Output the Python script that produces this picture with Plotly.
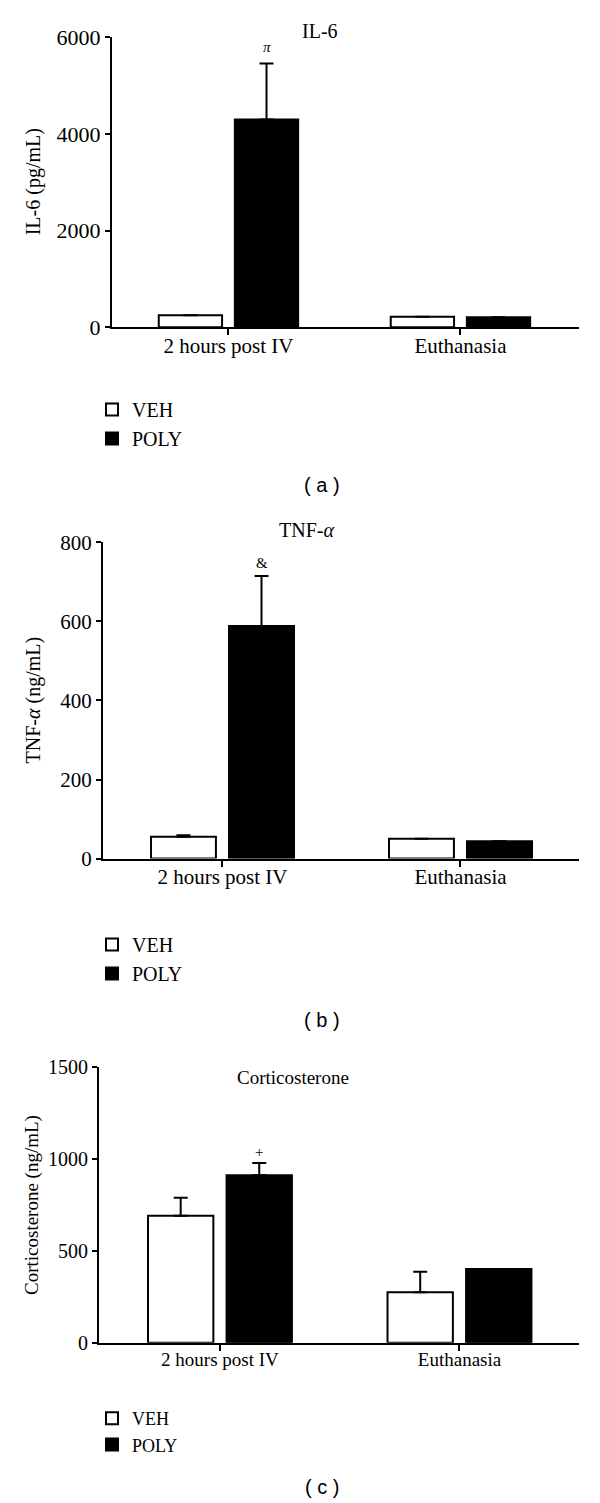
import plotly.graph_objects as go

# ---------------- data ----------------
categories = ["2 hours post IV", "Euthanasia"]

il6_veh = [250, 220]
il6_veh_err = [0, 0]
il6_poly = [4300, 210]
il6_poly_err = [1160, 0]

tnf_veh = [55, 50]
tnf_veh_err = [4, 0]
tnf_poly = [588, 44]
tnf_poly_err = [127, 0]

cort_veh = [692, 275]
cort_veh_err = [98, 112]
cort_poly = [912, 401]
cort_poly_err = [67, 0]

series_names = ["VEH", "POLY"]
panel_titles = ["IL-6", "TNF-<i>α</i>", "Corticosterone"]
y_titles = ["IL-6 (pg/mL)", "TNF-<i>α</i> (ng/mL)", "Corticosterone (ng/mL)"]
y_ticks = [[0, 2000, 4000, 6000], [0, 200, 400, 600, 800], [0, 500, 1000, 1500]]
y_ranges = [[0, 6000], [0, 800], [0, 1500]]
sig_marks = ["<i>π</i>", "&", "+"]
panel_labels = ["( a )", "( b )", "( c )"]

# ---------------- layout helpers ----------------
# The page body has an 8px default margin, so the figure is offset by it;
# positions below are given in window pixels and converted accordingly.
PAGE_W, PAGE_H, BODY = 600, 1503, 8
W, H = PAGE_W - 2 * BODY, PAGE_H - BODY
SERIF = "Liberation Serif"


def px_x(v):
    return (v - BODY) / W


def px_y(v):
    return 1 - (v - BODY) / H


panels = [
    dict(veh=il6_veh, veh_err=il6_veh_err, poly=il6_poly, poly_err=il6_poly_err,
         xdom=(112, 579), ydom=(37.3, 327.3), xr=(-0.502, 1.511),
         yfs=22, xfs=21, tfs=20, lfs=20,
         sig_off=330, title_xy=(320, 31), ytitle_x=33, leg_top=390, lab_y=485),
    dict(veh=tnf_veh, veh_err=tnf_veh_err, poly=tnf_poly, poly_err=tnf_poly_err,
         xdom=(103, 579), ydom=(542.3, 858.6), xr=(-0.502, 1.498),
         yfs=21, xfs=21, tfs=20, lfs=20,
         sig_off=33, title_xy=(306, 530), ytitle_x=33, leg_top=925, lab_y=1020),
    dict(veh=cort_veh, veh_err=cort_veh_err, poly=cort_poly, poly_err=cort_poly_err,
         xdom=(99, 579), ydom=(1067.3, 1342.7), xr=(-0.505, 1.499),
         yfs=20, xfs=19, tfs=19, lfs=18,
         sig_off=60, title_xy=(293, 1077), ytitle_x=32, leg_top=1400, lab_y=1487),
]

fig = go.Figure()
annotations = []
layout = {}

for i, p in enumerate(panels):
    sfx = "" if i == 0 else str(i + 1)
    xa, ya = "x" + sfx, "y" + sfx
    leg = "legend" + sfx
    for name, vals, errs, fill in [
        (series_names[0], p["veh"], p["veh_err"], "white"),
        (series_names[1], p["poly"], p["poly_err"], "black"),
    ]:
        fig.add_trace(go.Bar(
            x=categories, y=vals, name=name, xaxis=xa, yaxis=ya, legend=leg,
            marker=dict(color=fill, line=dict(color="black", width=2)),
            error_y=dict(type="data", symmetric=False, array=errs,
                         arrayminus=[0] * len(errs), color="black",
                         thickness=2, width=7),
            offsetgroup=name,
        ))

    layout["xaxis" + sfx] = dict(
        domain=[px_x(p["xdom"][0]), px_x(p["xdom"][1])], anchor=ya,
        type="category", range=list(p["xr"]), automargin=False,
        showline=True, linecolor="black", linewidth=2,
        ticks="outside", ticklen=6, tickwidth=2, tickcolor="black",
        ticklabelstandoff=-8,
        showgrid=False, zeroline=False,
        tickfont=dict(family=SERIF, size=p["xfs"], color="black"),
    )
    layout["yaxis" + sfx] = dict(
        domain=[px_y(p["ydom"][1]), px_y(p["ydom"][0])], anchor=xa,
        range=y_ranges[i], tickvals=y_ticks[i], automargin=False,
        showline=True, linecolor="black", linewidth=2,
        ticks="outside", ticklen=5, tickwidth=2, tickcolor="black",
        showgrid=False, zeroline=False,
        tickfont=dict(family=SERIF, size=p["yfs"], color="black"),
    )
    layout[leg] = dict(
        x=px_x(92), y=px_y(p["leg_top"]), xanchor="left", yanchor="top",
        bgcolor="rgba(0,0,0,0)", borderwidth=0, tracegroupgap=0,
        font=dict(family=SERIF, size=p["lfs"], color="black"),
        itemclick=False, itemdoubleclick=False,
    )

    # panel title
    annotations.append(dict(
        text=panel_titles[i], xref="paper", yref="paper",
        x=px_x(p["title_xy"][0]), y=px_y(p["title_xy"][1]),
        xanchor="center", yanchor="middle", showarrow=False,
        font=dict(family=SERIF, size=p["tfs"], color="black")))
    # y axis title
    mid = (p["ydom"][0] + p["ydom"][1]) / 2
    annotations.append(dict(
        text=y_titles[i], xref="paper", yref="paper",
        x=px_x(p["ytitle_x"]), y=px_y(mid), textangle=-90,
        xanchor="center", yanchor="middle", showarrow=False,
        font=dict(family=SERIF, size=p["tfs"], color="black")))
    # significance mark above POLY at first category
    annotations.append(dict(
        text=sig_marks[i], xref=xa, yref=ya,
        x=0.164, y=p["poly"][0] + p["poly_err"][0] + p["sig_off"],
        xanchor="center", yanchor="middle", showarrow=False,
        font=dict(family=SERIF, size=15, color="black")))
    # panel letter
    annotations.append(dict(
        text=panel_labels[i], xref="paper", yref="paper",
        x=px_x(322), y=px_y(p["lab_y"]), xanchor="center", yanchor="middle",
        showarrow=False,
        font=dict(family="Liberation Sans", size=20, color="black")))

fig.update_layout(
    width=W, height=H,
    margin=dict(l=0, r=0, t=0, b=0, pad=0, autoexpand=False),
    paper_bgcolor="white", plot_bgcolor="white",
    barmode="group", bargap=0.344, bargroupgap=0.168,
    showlegend=True,
    annotations=annotations,
    font=dict(family=SERIF, color="black"),
    **layout,
)

fig.write_html("out.html")
